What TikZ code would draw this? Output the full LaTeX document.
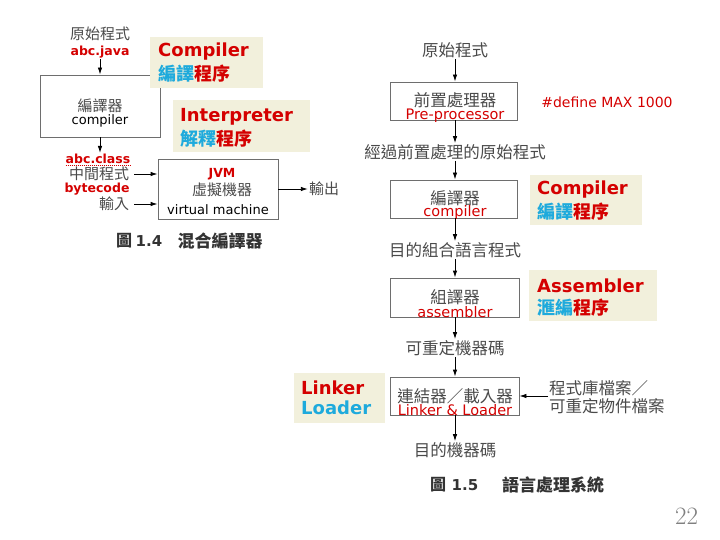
\documentclass[tikz,border=0pt]{standalone}
\usepackage{fontspec}
\setmainfont{DejaVu Sans}
\newfontfamily\cjk{Noto Sans CJK TC}
\newfontfamily\lmr{Latin Modern Roman}
\usetikzlibrary{arrows.meta}
\definecolor{myred}{HTML}{D40000}
\definecolor{mycyan}{HTML}{1EAADC}
\definecolor{beige}{HTML}{F2F0DC}
\definecolor{gtext}{HTML}{4A4A4A}
\definecolor{boxline}{HTML}{6E6E6E}
\definecolor{captc}{HTML}{333333}
\tikzset{
  box/.style={draw=boxline, line width=0.9pt, fill=white, inner sep=0pt},
  note/.style={fill=beige, inner sep=0pt, anchor=north west},
  lbl/.style={inner sep=1pt, text=gtext, font=\cjk\fontsize{15}{17}\selectfont},
  lbl2/.style={inner sep=1pt, text=gtext, font=\cjk\fontsize{16.5}{18}\selectfont},
  redb/.style={inner sep=1pt, text=myred, font=\bfseries\fontsize{12.5}{14}\selectfont},
  redin/.style={inner sep=0pt, text=myred, font=\fontsize{14.5}{16}\selectfont},
  big/.style={inner sep=0pt, anchor=west, font=\bfseries\fontsize{18}{20}\selectfont},
  bigc/.style={inner sep=0pt, anchor=west, font=\cjk\bfseries\fontsize{18}{20}\selectfont},
  arr/.style={-{Latex[length=7pt,width=4.5pt]}, line width=0.9pt, black},
  capt/.style={inner sep=0pt, text=captc, font=\bfseries\fontsize{17}{19}\selectfont},
}
\begin{document}
\begin{tikzpicture}[x=1pt,y=-1pt]
\useasboundingbox (0,0) rectangle (720,540);

% ---------------- left diagram (Fig 1.4) ----------------
\node[lbl] (src1) at (100,34) {原始程式};
\node[redb] (java) at (100,52) {abc.java};
\node[box, minimum width=120pt, minimum height=62pt] (cbox) at (100,106) {};
\node[inner sep=0pt, text=gtext, font=\cjk\fontsize{15}{17}\selectfont] (cboxa) at (100,106) {編譯器};
\node[inner sep=0pt, font=\fontsize{13}{15}\selectfont] (cboxb) at (100,121) {compiler};
\draw[arr] (java.south) -- (cbox.north);

\node[note, minimum width=113pt, minimum height=51pt] (n1) at (150,37) {};
\node[big, text=myred] (n1a) at (158,52) {Compiler};
\node[bigc] (n1b) at (158,74) {\textcolor{mycyan}{編譯}\textcolor{myred}{程序}};

\node[note, minimum width=137pt, minimum height=52pt] (n2) at (173,100) {};
\node[big, text=myred] (n2a) at (180,117) {Interpreter};
\node[bigc] (n2b) at (180,139) {\textcolor{mycyan}{解釋}\textcolor{myred}{程序}};

\node[redb] (cls) at (98,159) {abc.class};
\draw[myred, densely dotted, line width=1pt] (cls.south west) ++(1,0) -- ([xshift=-1pt]cls.south east);
\node[lbl] (mid1) at (99,174) {中間程式};
\node[redb] (bc) at (97,189) {bytecode};
\node[lbl] (inp) at (114,204) {輸入};
\draw[arr] (cbox.south) -- (cls.north -| cbox.south);

\node[box, minimum width=120pt, minimum height=60pt] (jvm) at (218,189) {};
\node[inner sep=0pt, text=myred, font=\bfseries\fontsize{12.5}{14}\selectfont] (jvma) at (222,174) {JVM};
\node[inner sep=0pt, text=gtext, font=\cjk\fontsize{15}{17}\selectfont] (jvmb) at (222,190) {虛擬機器};
\node[inner sep=0pt, font=\fontsize{13}{15}\selectfont] (jvmc) at (218,210) {virtual machine};
\draw[arr] ([xshift=4pt]mid1.east) -- (mid1.east -| jvm.west);
\draw[arr] ([xshift=4pt]inp.east) -- (inp.east -| jvm.west);
\node[lbl] (out) at (324,189) {輸出};
\draw[arr] (jvm.east) -- (out.west);

\node[capt, font=\cjk\bfseries\fontsize{16}{18}\selectfont] (c1a) at (124,241) {圖};
\node[capt, font=\bfseries\fontsize{15}{17}\selectfont] (c1b) at (149,241) {1.4};
\node[capt, font=\cjk\bfseries\fontsize{17}{19}\selectfont] (c1c) at (220,241) {混合編譯器};

% ---------------- right diagram (Fig 1.5) ----------------
\node[lbl2] (src2) at (455,50) {原始程式};
\node[box, minimum width=127pt, minimum height=38pt] (pre) at (453.5,101) {};
\node[inner sep=0pt, text=gtext, font=\cjk\fontsize{16.5}{18}\selectfont] (prea) at (455,100) {前置處理器};
\node[redin] (preb) at (455,116) {Pre-processor};
\node[inner sep=0pt, text=myred, font=\fontsize{14}{16}\selectfont] (def) at (607,102) {\#define MAX 1000};
\draw[arr] (src2.south) -- (src2.south |- pre.north);

\node[lbl2] (mid2) at (455,152) {經過前置處理的原始程式};
\draw[arr] (pre.south -| src2.south) -- (src2.south |- mid2.north);

\node[box, minimum width=127pt, minimum height=38pt] (comp) at (453.5,199) {};
\node[inner sep=0pt, text=gtext, font=\cjk\fontsize{16.5}{18}\selectfont] (compa) at (455,198) {編譯器};
\node[redin] (compb) at (455,213) {compiler};
\draw[arr] (mid2.south) -- (mid2.south |- comp.north);

\node[note, minimum width=112pt, minimum height=50pt] (n3) at (530,175) {};
\node[big, text=myred] (n3a) at (537,190) {Compiler};
\node[bigc] (n3b) at (537,212) {\textcolor{mycyan}{編譯}\textcolor{myred}{程序}};

\node[lbl2] (asmsrc) at (455,250) {目的組合語言程式};
\draw[arr] (comp.south -| src2.south) -- (src2.south |- asmsrc.north);

\node[box, minimum width=129pt, minimum height=39pt] (asm) at (454.5,297.5) {};
\node[inner sep=0pt, text=gtext, font=\cjk\fontsize{16.5}{18}\selectfont] (asma) at (455,297) {組譯器};
\node[redin] (asmb) at (455,312) {assembler};
\draw[arr] (asmsrc.south) -- (asmsrc.south |- asm.north);

\node[note, minimum width=128pt, minimum height=51pt] (n4) at (529,270) {};
\node[big, text=myred] (n4a) at (537,286) {Assembler};
\node[bigc] (n4b) at (537,308) {\textcolor{mycyan}{滙編}\textcolor{myred}{程序}};

\node[lbl2] (reloc) at (455,348) {可重定機器碼};
\draw[arr] (asm.south -| src2.south) -- (src2.south |- reloc.north);

\node[box, minimum width=129pt, minimum height=38pt] (link) at (454.5,396) {};
\node[inner sep=0pt, text=gtext, font=\cjk\fontsize{16.5}{18}\selectfont] (linka) at (455,396) {連結器／載入器};
\node[redin] (linkb) at (455,410) {Linker \& Loader};
\draw[arr] (reloc.south) -- (reloc.south |- link.north);

\node[lbl2, anchor=west, align=left] (lib) at (548,397) {程式庫檔案／\\可重定物件檔案};
\draw[arr] (lib.west |- link.east) -- (link.east);

\node[note, minimum width=91pt, minimum height=50pt] (n5) at (294,373) {};
\node[big, text=myred] (n5a) at (301,388) {Linker};
\node[big, text=mycyan] (n5b) at (301,408) {Loader};

\node[lbl2] (dst) at (455,450) {目的機器碼};
\draw[arr] (link.south -| src2.south) -- (src2.south |- dst.north);

\node[capt, font=\cjk\bfseries\fontsize{16}{18}\selectfont] (c2a) at (438,485) {圖};
\node[capt, font=\bfseries\fontsize{15}{17}\selectfont] (c2b) at (465,485) {1.5};
\node[capt, font=\cjk\bfseries\fontsize{17}{19}\selectfont] (c2c) at (553,485) {語言處理系統};

\node[inner sep=0pt, text=gray, font=\lmr\fontsize{25}{27}\selectfont] (page) at (686.5,516) {22};
\end{tikzpicture}
\end{document}
